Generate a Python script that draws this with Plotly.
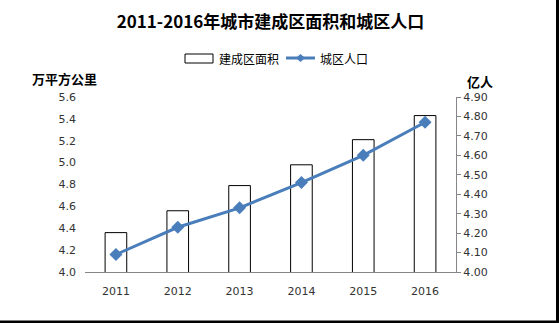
import plotly.graph_objects as go

# Data
years = ["2011", "2012", "2013", "2014", "2015", "2016"]
area = [4.36, 4.56, 4.79, 4.98, 5.21, 5.43]        # 万平方公里
population = [4.09, 4.23, 4.33, 4.46, 4.60, 4.77]  # 亿人

W, H = 559, 323
L, R, T, B = 85, 103, 97, 51
PW, PH = W - L - R, H - T - B

def px(x):
    return (x - L) / PW

def py(y):
    return (H - B - y) / PH

CJK = "Noto Sans CJK SC"
TICK = "DejaVu Sans"
BLUE = "#4a7ebb"

fig = go.Figure()
fig.add_trace(go.Bar(
    x=years, y=area, name="建成区面积",
    marker=dict(color="white", line=dict(color="black", width=1)),
    yaxis="y", showlegend=False,
))
fig.add_trace(go.Scatter(
    x=years, y=population, name="城区人口", mode="lines+markers",
    line=dict(color=BLUE, width=3),
    marker=dict(symbol="diamond", size=10, color=BLUE),
    yaxis="y2", showlegend=False,
))

shapes = [
    # legend: bar swatch
    dict(type="rect", xref="paper", yref="paper",
         x0=px(185), x1=px(213), y0=py(63), y1=py(54),
         line=dict(color="black", width=1), fillcolor="white"),
    # legend: line swatch
    dict(type="line", xref="paper", yref="paper",
         x0=px(286), x1=px(315), y0=py(58), y1=py(58),
         line=dict(color=BLUE, width=3)),
    dict(type="path", xref="paper", yref="paper",
         path=f"M {px(300.5)} {py(54)} L {px(305)} {py(58)} L {px(300.5)} {py(62)} L {px(296)} {py(58)} Z",
         fillcolor=BLUE, line=dict(color=BLUE, width=0)),
    # frame edges
    dict(type="line", xref="paper", yref="paper",
         x0=px(557.5), x1=px(557.5), y0=py(0), y1=py(323),
         line=dict(color="black", width=3)),
    dict(type="line", xref="paper", yref="paper",
         x0=px(0), x1=px(559), y0=py(322), y1=py(322),
         line=dict(color="black", width=3)),
]

annotations = [
    dict(text="建成区面积", xref="paper", yref="paper", x=px(217), y=py(58),
         xanchor="left", yanchor="middle", showarrow=False,
         font=dict(family=CJK, size=12, color="#000")),
    dict(text="城区人口", xref="paper", yref="paper", x=px(318), y=py(58),
         xanchor="left", yanchor="middle", showarrow=False,
         font=dict(family=CJK, size=12, color="#000")),
    dict(text="<b>万平方公里</b>", xref="paper", yref="paper", x=px(64), y=py(78),
         xanchor="center", yanchor="middle", showarrow=False,
         font=dict(family=CJK, size=13, color="#000")),
    dict(text="<b>亿人</b>", xref="paper", yref="paper", x=px(480), y=py(81),
         xanchor="center", yanchor="middle", showarrow=False,
         font=dict(family=CJK, size=13, color="#000")),
]

fig.update_layout(
    width=W, height=H,
    margin=dict(l=L, r=R, t=T, b=B, pad=0),
    paper_bgcolor="white", plot_bgcolor="white",
    title=dict(text="<b>2011-2016年城市建成区面积和城区人口</b>",
               x=0.5, xref="paper", xanchor="center",
               y=1 - 22 / H, yref="container", yanchor="middle",
               font=dict(family=CJK, size=17, color="#000")),
    bargap=0.65,
    xaxis=dict(
        type="category", showgrid=False, zeroline=False,
        showline=True, linecolor="#868686", linewidth=1,
        ticks="", tickfont=dict(family=TICK, size=11, color="#333"),
        ticklabelstandoff=9,
    ),
    yaxis=dict(
        range=[4.0, 5.6], dtick=0.2, tick0=4.0, tickformat=".1f",
        showgrid=False, zeroline=False, showline=False, ticks="",
        tickfont=dict(family=TICK, size=11, color="#333"),
        ticklabelstandoff=8,
    ),
    yaxis2=dict(
        range=[4.0, 4.9], dtick=0.1, tick0=4.0, tickformat=".2f",
        overlaying="y", side="right",
        showgrid=False, zeroline=False,
        showline=True, linecolor="#868686", linewidth=1,
        ticks="outside", ticklen=4, tickcolor="#868686",
        tickfont=dict(family=TICK, size=11, color="#333"),
    ),
    shapes=shapes,
    annotations=annotations,
)

fig.write_html("out.html")
